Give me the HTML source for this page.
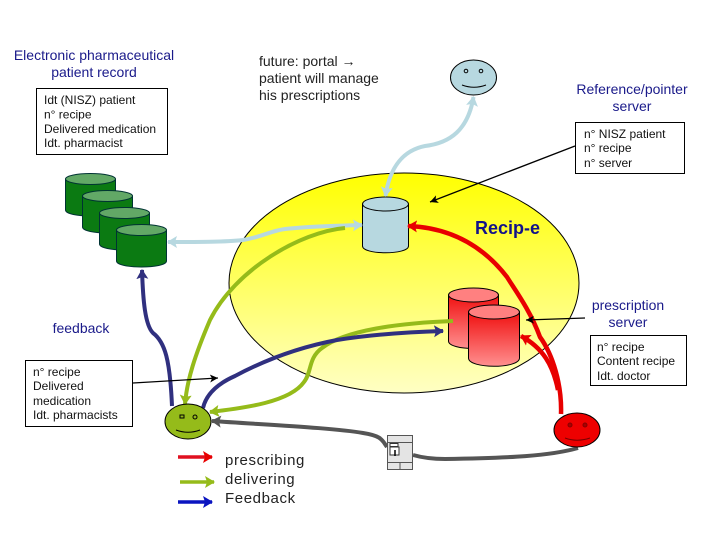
<!DOCTYPE html>
<html><head><meta charset="utf-8"><style>
html,body{margin:0;padding:0;background:#fff}
svg{display:block}
text{font-family:"Liberation Sans",sans-serif}
.n{fill:#1a1a8a;font-size:14px;text-anchor:middle}
.b{fill:#111;font-size:12px}
.f{fill:#222;font-size:14px}
.l{fill:#222;font-size:15px;letter-spacing:.6px}
</style></head><body>
<svg width="720" height="540" viewBox="0 0 720 540" xmlns="http://www.w3.org/2000/svg">
<defs>
<linearGradient id="y" x1="0" y1="0" x2="0" y2="1"><stop offset="0" stop-color="#ffff00"/><stop offset="1" stop-color="#ffffc4"/></linearGradient>
<linearGradient id="r" x1="0" y1="0" x2="0" y2="1"><stop offset="0" stop-color="#f01010"/><stop offset="1" stop-color="#ff9090"/></linearGradient>
<marker id="ar" markerUnits="userSpaceOnUse" markerWidth="14" markerHeight="14" refX="9" refY="6" orient="auto-start-reverse"><path d="M0 0L10 6L0 12L2 6Z" fill="#e80000"/></marker>
<marker id="ag" markerUnits="userSpaceOnUse" markerWidth="14" markerHeight="14" refX="9" refY="6" orient="auto-start-reverse"><path d="M0 0L10 6L0 12L2 6Z" fill="#95bb1a"/></marker>
<marker id="an" markerUnits="userSpaceOnUse" markerWidth="14" markerHeight="14" refX="9" refY="6" orient="auto-start-reverse"><path d="M0 0L10 6L0 12L2 6Z" fill="#30307f"/></marker>
<marker id="al" markerUnits="userSpaceOnUse" markerWidth="14" markerHeight="14" refX="9" refY="6" orient="auto-start-reverse"><path d="M0 0L10 6L0 12L2 6Z" fill="#b7d8e0"/></marker>
<marker id="ad" markerUnits="userSpaceOnUse" markerWidth="14" markerHeight="14" refX="9" refY="6" orient="auto-start-reverse"><path d="M0 0L10 6L0 12L2 6Z" fill="#555"/></marker>
<marker id="ab" markerUnits="userSpaceOnUse" markerWidth="14" markerHeight="14" refX="9" refY="6" orient="auto-start-reverse"><path d="M0 0L10 6L0 12L2 6Z" fill="#0a14c0"/></marker>
<marker id="ak" markerUnits="userSpaceOnUse" markerWidth="10" markerHeight="10" refX="8" refY="4" orient="auto"><path d="M0 0L8 4L0 8L2 4Z" fill="#000"/></marker>
</defs>

<ellipse cx="404" cy="283" rx="175" ry="110" fill="url(#y)" stroke="#000" stroke-width="1"/>

<!-- green cylinders -->
<g fill="#0b7a12" stroke="#033" stroke-width="1">
<path d="M65.500 179V210C65.500 218 115.500 218 115.500 210V179Z"/><ellipse cx="90.500" cy="179" rx="25" ry="5.500" fill="#62a866"/>
<path d="M82.500 196V227C82.500 235 132.500 235 132.500 227V196Z"/><ellipse cx="107.500" cy="196" rx="25" ry="5.500" fill="#62a866"/>
<path d="M99.500 213V244C99.500 252 149.500 252 149.500 244V213Z"/><ellipse cx="124.500" cy="213" rx="25" ry="5.500" fill="#62a866"/>
<path d="M116.500 230V261C116.500 269 166.500 269 166.500 261V230Z"/><ellipse cx="141.500" cy="230" rx="25" ry="5.500" fill="#62a866"/>
</g>

<!-- light blue cylinder -->
<path d="M362.500 204V246C362.500 255 408.500 255 408.500 246V204Z" fill="#b7d8e0" stroke="#000"/>
<ellipse cx="385.500" cy="204" rx="23" ry="7" fill="#b7d8e0" stroke="#000"/>

<!-- red cylinders -->
<path d="M448.500 295V341C448.500 351 498.500 351 498.500 341V295Z" fill="url(#r)" stroke="#000"/>
<ellipse cx="473.500" cy="295" rx="25" ry="7" fill="#ff8080" stroke="#000"/>
<path d="M468.500 312V358C468.500 369 519.500 369 519.500 358V312Z" fill="url(#r)" stroke="#000"/>
<ellipse cx="494" cy="312" rx="25.500" ry="7" fill="#ff8080" stroke="#000"/>

<!-- connectors -->
<g fill="none" stroke-linecap="butt">
<path d="M385.500 196C390 165 405 150 425 146C450 143 468 130 473.500 97" stroke="#b7d8e0" stroke-width="4" marker-start="url(#al)" marker-end="url(#al)"/>
<path d="M168 242C200 242 225 242 243 240C262 237 270 231 285 229C310 226 335 226 362 225" stroke="#b7d8e0" stroke-width="4" marker-start="url(#al)" marker-end="url(#al)"/>
<path d="M345 228C300 232 235 270 210 320C195 355 187 380 185 404" stroke="#95bb1a" stroke-width="4" marker-end="url(#ag)"/>
<path d="M453 321C400 323 345 330 322 348C308 358 312 372 304 382C290 402 245 408 210 412" stroke="#95bb1a" stroke-width="4" marker-end="url(#ag)"/>
<path d="M142 270C143 300 145 325 153 333C165 342 170 360 172 406" stroke="#30307f" stroke-width="4" marker-start="url(#an)"/>
<path d="M203 408C206 395 217 384 235 376C265 360 300 347 337 340C375 334 410 332 443 331" stroke="#30307f" stroke-width="4" marker-end="url(#an)"/>
<path d="M561 414C562 385 553 355 540 337C530 310 515 290 507 277C490 255 460 228 408 226" stroke="#e80000" stroke-width="4.500" marker-end="url(#ar)"/>
<path d="M558 390C553 365 543 348 521 336" stroke="#e80000" stroke-width="4.500" marker-end="url(#ar)"/>
<path d="M578 448C550 456 510 458 445 459C430 459 420 457 413 455" stroke="#555" stroke-width="4"/>
<path d="M387 447C382 440 382 436 363 433C335 428 270 425 212 421" stroke="#555" stroke-width="4" marker-end="url(#ad)"/>
</g>

<!-- faces -->
<g stroke="#000" stroke-width="1">
<ellipse cx="473.500" cy="77.500" rx="23" ry="17.500" fill="#b7d8e0"/>
<ellipse cx="188" cy="421.500" rx="23" ry="17.500" fill="#95bb1a"/>
<ellipse cx="577" cy="430" rx="23" ry="17" fill="#ee0000"/>
<g fill="none">
<path d="M462 85C470 88 478 88 486 85"/><path d="M176 430C184 433 192 433 200 430"/><path d="M565 438C573 441 581 441 590 438" stroke="#700"/>
<circle cx="466" cy="71" r="1.800"/><circle cx="481" cy="71" r="1.800"/>
<rect x="180" y="415" width="4" height="3"/><circle cx="195" cy="417" r="2"/>
<circle cx="570" cy="425" r="2" stroke="#800" fill="#a00"/><circle cx="585" cy="425" r="2" stroke="#800" fill="#a00"/>
</g></g>

<!-- printer icon -->
<g stroke="#555" stroke-width="1">
<rect x="387.500" y="435.500" width="25" height="34" fill="#e4e4e4"/>
<path d="M387.500 442.500H412.500M387.500 462.500H412.500M400 462.500V469.500" fill="none"/>
<rect x="390" y="443.500" width="8" height="3" fill="#fff" stroke="#333"/>
<rect x="390" y="447" width="9" height="8" fill="#fff" stroke="#333"/>
</g>
<path d="M395 450V456" stroke="#000" stroke-width="1.500"/>

<!-- boxes -->
<g fill="#fff" stroke="#000" stroke-width="1">
<rect x="36.500" y="88.500" width="131" height="66"/>
<rect x="575.500" y="122.500" width="109" height="51"/>
<rect x="590.500" y="335.500" width="96" height="50"/>
<rect x="25.500" y="360.500" width="107" height="66"/>
</g>

<!-- pointers -->
<g stroke="#000" fill="none" stroke-width="1.200">
<path d="M575 146L430 202" marker-end="url(#ak)" stroke-width="1.300"/>
<path d="M585 318L526 320" marker-end="url(#ak)"/>
<path d="M133 383L218 378" marker-end="url(#ak)"/>
</g>

<!-- legend -->
<g fill="none" stroke-width="3.500">
<path d="M178 457H212" stroke="#e01020" marker-end="url(#ar)"/>
<path d="M180 482H214" stroke="#95bb1a" marker-end="url(#ag)"/>
<path d="M178 502H212" stroke="#0a14c0" marker-end="url(#ab)"/>
</g>

<!-- text -->
<text class="n" x="94" y="60">Electronic pharmaceutical</text>
<text class="n" x="94" y="77">patient record</text>
<text class="b" x="44" y="104">Idt (NISZ)  patient</text>
<text class="b" x="44" y="118.500">n° recipe</text>
<text class="b" x="44" y="133">Delivered medication</text>
<text class="b" x="44" y="147">Idt. pharmacist</text>
<text class="f" x="259" y="66">future: portal →</text>
<text class="f" x="259" y="83">patient will manage</text>
<text class="f" x="259" y="100">his prescriptions</text>
<text class="n" x="632" y="94">Reference/pointer</text>
<text class="n" x="632" y="111">server</text>
<text class="b" x="584" y="138">n° NISZ patient</text>
<text class="b" x="584" y="152">n° recipe</text>
<text class="b" x="584" y="167">n° server</text>
<text x="507.500" y="234" text-anchor="middle" style="font-size:18px;font-weight:bold;fill:#12128a">Recip-e</text>
<text class="n" x="628" y="310">prescription</text>
<text class="n" x="628" y="327">server</text>
<text class="b" x="597" y="351">n° recipe</text>
<text class="b" x="597" y="365">Content recipe</text>
<text class="b" x="597" y="380">Idt. doctor</text>
<text class="n" x="81" y="333">feedback</text>
<text class="b" x="33" y="376">n° recipe</text>
<text class="b" x="33" y="390">Delivered</text>
<text class="b" x="33" y="405">medication</text>
<text class="b" x="33" y="419">Idt. pharmacists</text>
<text class="l" x="225" y="465">prescribing</text>
<text class="l" x="225" y="484">delivering</text>
<text class="l" x="225" y="503">Feedback</text>
</svg>
</body></html>
